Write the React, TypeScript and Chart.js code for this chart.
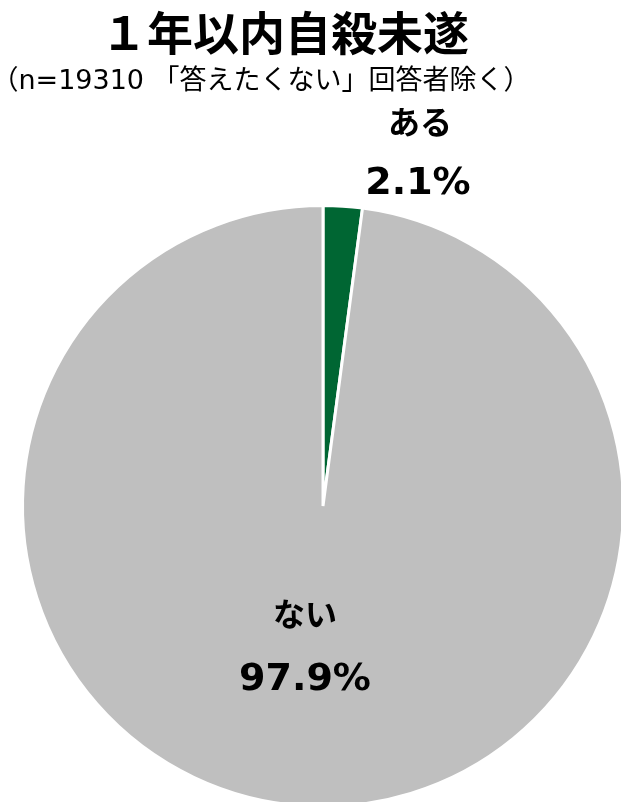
import React, { useEffect, useRef } from "react";
import { Chart, registerables } from "chart.js";

Chart.register(...registerables);

const categories = ["ある", "ない"];
const values = [2.1, 97.9];
const valueLabels = ["2.1%", "97.9%"];
const colors = ["#006633", "#BFBFBF"];
const titleText = "１年以内自殺未遂";
const subtitleText = "（n=19310 「答えたくない」回答者除く）";

const textPlugin = {
  id: "texts",
  afterDraw(chart: any) {
    const ctx = chart.ctx;
    ctx.save();
    ctx.fillStyle = "#000";
    ctx.textAlign = "center";
    ctx.textBaseline = "middle";
    ctx.font = "bold 46px 'Noto Sans CJK JP'";
    ctx.fillText(titleText, 285, 33);
    ctx.font = "27px 'DejaVu Sans', 'Noto Sans CJK JP'";
    ctx.fillText(subtitleText, 261, 82);
    const cjk = "bold 32px 'Noto Sans CJK JP'";
    const num = "bold 38px 'DejaVu Sans'";
    // label positions for each slice
    const pos = [
      [420, 122, 418, 184],
      [305, 614, 305, 680],
    ];
    categories.forEach((c, i) => {
      ctx.font = cjk;
      ctx.fillText(c, pos[i][0], pos[i][1]);
      ctx.font = num;
      ctx.fillText(valueLabels[i], pos[i][2], pos[i][3]);
    });
    ctx.restore();
  },
};

export default function App() {
  const ref = useRef<HTMLCanvasElement>(null);
  useEffect(() => {
    const chart = new Chart(ref.current!, {
      type: "pie",
      data: {
        labels: categories,
        datasets: [
          {
            data: values,
            backgroundColor: colors,
            borderColor: "#FFFFFF",
            borderWidth: 3,
          },
        ],
      },
      options: {
        responsive: false,
        animation: false,
        layout: { padding: { left: 21, right: 25, top: 204, bottom: 22 } },
        plugins: {
          legend: { display: false },
          tooltip: { enabled: false },
          title: { display: false },
        },
      },
      plugins: [textPlugin],
    });
    return () => chart.destroy();
  }, []);
  return (
    <div
      style={{
        position: "fixed",
        left: 0,
        top: 0,
        width: 621,
        height: 802,
        overflow: "hidden",
        background: "#fff",
      }}
    >
      <canvas ref={ref} width={650} height={830} style={{ display: "block" }} />
    </div>
  );
}
